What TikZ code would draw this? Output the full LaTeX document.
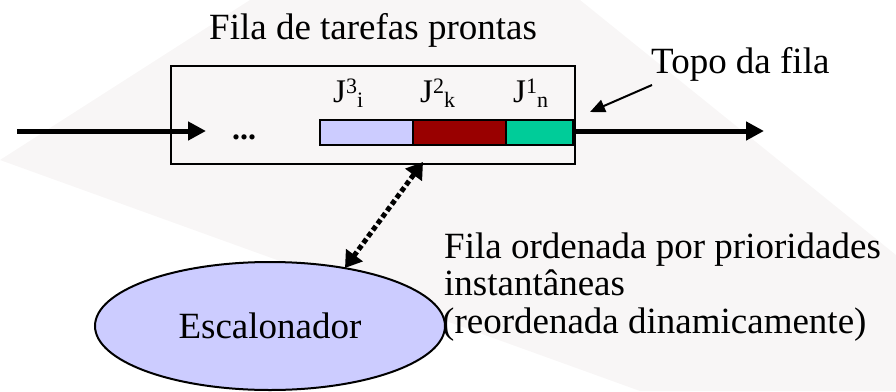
\documentclass[tikz,border=0pt]{standalone}
\usepackage{fontspec}
\setmainfont{Liberation Serif}
\usetikzlibrary{arrows.meta,shapes.geometric}
\definecolor{lav}{HTML}{CCCCFF}
\definecolor{jobred}{HTML}{990000}
\definecolor{jobgreen}{HTML}{00CC99}
\definecolor{wm}{HTML}{F8F6F6}
\newcommand{\jlab}[2]{J{\fontsize{22}{22}\selectfont\raisebox{9pt}{#1}\raisebox{-5pt}{#2}}}
\begin{document}
\begin{tikzpicture}[x=1pt,y=-1pt,
  txt/.style={font=\fontsize{37}{40}\selectfont, inner sep=0pt},
  jtxt/.style={font=\fontsize{33}{36}\selectfont, inner sep=0pt},
  cell/.style={draw, line width=2.2pt, minimum height=25pt, inner sep=0pt, anchor=north west},
  bigarrow/.style={line width=5pt, -{Triangle[length=18pt,width=18pt]}},
  thinarrow/.style={line width=2pt, -{Triangle[length=15pt,width=13pt]}},
  dotarrow/.style={line width=5pt, dash pattern=on 5pt off 3pt,
     {Triangle[length=16pt,width=20pt]}-{Triangle[length=16pt,width=20pt]}}]
\useasboundingbox (0,0) rectangle (896,391);
% faint background watermark
\fill[wm] (0,160) -- (250,0) -- (580,0) -- (896,255) -- (896,391) -- (640,391) -- cycle;
% queue box
\node[draw, fill=wm, line width=2pt, minimum width=404pt, minimum height=98pt, inner sep=0pt, anchor=north west] (queue) at (170,65) {};
% cells
\node[cell, fill=lav, minimum width=93pt] (c3) at (319,119) {};
\node[cell, fill=jobred, minimum width=93pt] (c2) at (412,119) {};
\node[cell, fill=jobgreen, minimum width=67pt] (c1) at (505,119) {};
% labels
\node[jtxt, anchor=base west] (j3) at (333,102) {\jlab{3}{i}};
\node[jtxt, anchor=base west] (j2) at (420,102) {\jlab{2}{k}};
\node[jtxt, anchor=base west] (j1) at (513,102) {\jlab{1}{n}};
\node[font=\fontsize{32}{32}\selectfont\bfseries, inner sep=0pt, anchor=base] (dots) at (244,139) {...};
\node[txt, anchor=base west] (title) at (209,39.5) {Fila de tarefas prontas};
\node[txt, anchor=base west] (topo) at (651,73) {Topo da fila};
\node[txt, anchor=base west] (l1) at (444,258) {Fila ordenada por prioridades};
\node[txt, anchor=base west] (l2) at (444,295) {instantâneas};
\node[txt, anchor=base west] (l3) at (442,333) {(reordenada dinamicamente)};
% scheduler
\node[ellipse, draw, fill=lav, line width=2pt, minimum width=350pt, minimum height=128pt, inner sep=0pt] (sched) at (270,326) {};
\node[txt, anchor=base] (schedlbl) at (270,338) {Escalonador};
% connectors
\coordinate (inL) at (17,131);
\coordinate (inR) at (206,131);
\draw[bigarrow] (inL) -- (inR);
\coordinate (outR) at (764,131);
\draw[bigarrow] (queue.east |- outR) -- (outR);
\coordinate (topoTail) at (652,85);
\coordinate (topoTip) at (590,112);
\draw[thinarrow] (topoTail) -- (topoTip);
\coordinate (dA) at (423,162);
\coordinate (dB) at (345,268);
\draw[dotarrow] (dB) -- (dA);
\end{tikzpicture}
\end{document}
